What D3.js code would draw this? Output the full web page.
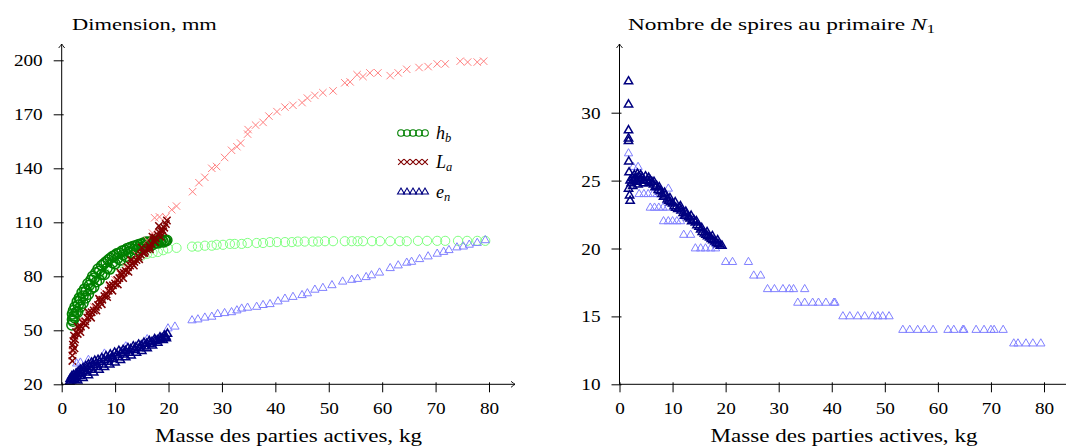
<!DOCTYPE html>
<html><head><meta charset="utf-8">
<script src="https://cdn.jsdelivr.net/npm/d3@7"></script>
<style>body{margin:0;background:#fff}svg{display:block}</style>
</head><body><svg id="c" width="1066" height="447"></svg>
<script>
// ---------- data ----------
const xTickValues = [0,10,20,30,40,50,60,70,80];
const yTicksLeft = [20,50,80,110,140,170,200];
const yTicksRight = [10,15,20,25,30];
const titleLeft = "Dimension, mm";
const titleRight = "Nombre de spires au primaire ";
const xLabel = "Masse des parties actives, kg";

// h_b (green circles)
const hbLight = [[2.0,58],[2.5,62],[3,66],[3.5,69],[4,71],[5,75],[6,78],[7,80.5],[8,82.5],[9,84.5],[10,86],[11,87.5],[12,89],[13,90],[14,91],[15,91.5],[16,92.5],[17,93],[18,93.5],[19,94.5],[19.9,95.5],[21.5,95.8],[24.4,96.5],[25.5,96.5],[26.8,97],[28.1,97],[29,97.5],[30.2,97.5],[31.5,98],[32.4,98],[33.7,98],[34.8,98.5],[36.5,98.5],[37.7,98.5],[39,99],[40.3,99],[41.8,99],[43.1,99],[44.2,99.3],[45.5,99.3],[47,99.3],[48,99.3],[49.3,99.5],[50.8,99.5],[53,99.5],[54.3,99.5],[55.4,99.5],[56.4,99.5],[58.1,99.5],[59.6,99.5],[61.5,99.5],[63.3,99.5],[64.6,99.5],[66.7,99.7],[68.4,99.7],[70.3,99.7],[71.8,99.7],[74.2,99.7],[75.9,99.7],[77.8,99.7],[79.3,99.7]];
const hbDark = [[1.9,53],[2.0,56],[2.0,59],[2.1,55],[2.2,61],[2.3,58],[2.5,63],[2.7,60],[2.9,66],[3.1,64],[3.3,68],[3.5,67],[3.8,71],[4.0,69],[4.3,73],[4.6,72],[4.9,76],[5.2,75],[5.5,78],[5.8,80],[6.1,79],[6.4,82],[6.8,84],[7.1,83],[7.5,86],[7.9,87],[8.3,88],[8.7,89],[9.1,90],[9.5,91],[9.9,91.5],[10.3,92.5],[10.8,93],[11.3,94],[11.8,94.5],[12.3,95.5],[12.8,96],[13.3,96.5],[13.8,97],[14.3,97.5],[14.8,98],[15.3,98.5],[15.8,99],[16.3,99],[16.8,99.5],[17.3,99.5],[17.8,100],[18.3,100],[18.8,100],[19.3,100],[19.7,100],
  [3,60],[4,65],[5,70],[6,74],[7,78],[8,81],[9,84],[10,87],[11,89],[12,91],[13,93],[14,94.5],[15,95.5],[16,96.5],[17,97.5],[18,98.5],[19,99],
  [2.4,57],[3.5,63],[4.5,68],[5.5,73],[6.5,77],[7.5,81],[8.5,84.5],[9.5,87.5],[10.5,90],[11.5,92],[12.5,93.5],[13.5,95],[14.5,96],[15.5,97],[16.5,98],[17.5,98.5],[18.5,99.3],[19.5,99.6]];

// L_a (red crosses)
const laLight = [[2.0,38],[2.2,44],[2.5,47],[3,50],[4,55],[5,59],[6,63],[7,67],[8,71],[9,74],[10,78],[11,81],[12,85],[13,88],[14,92],[15,96],[16,100],[17,104],[17.4,112.5],[18.3,113],[19.5,113],[20.6,117],[21.5,119],[24.5,127],[25.7,132],[26.8,135],[28.1,140],[29,141],[30.5,146],[31.8,150],[32.8,152],[33.5,154],[34.8,159],[34.9,161.5],[36.3,164],[37.7,165.5],[38.8,169],[40.3,171.5],[41.8,174],[43.3,175],[45,176.5],[46,179],[47.4,180.5],[48.9,182],[50.8,183],[53,187.5],[54,188],[55.3,192],[56.4,191],[57.7,193],[59.2,193],[61.5,191.5],[63,193],[64.6,195],[66.9,196],[68.6,196.5],[70.3,198],[71.8,198],[74.6,199.5],[76,199],[77.8,199],[79,199.5]];
const laDark = [[2.0,33],[2.0,36],[2.1,39],[2.1,42],[2.2,44],[2.3,47],[2.5,45],[2.7,49],[3.0,48],[3.3,51],[3.6,52],[4.0,54],[4.4,55],[4.8,57],[5.2,58],[5.6,60],[6.0,61],[6.4,63],[6.8,64],[7.2,66],[7.6,67],[8.0,69],[8.4,70],[8.8,72],[9.2,73],[9.6,75],[10.0,76],[10.4,78],[10.8,79],[11.2,81],[11.6,82],[12.0,83],[12.4,85],[12.8,86],[13.2,87],[13.6,88],[14.0,89],[14.4,91],[14.8,92],[15.2,93],[15.6,94],[16.0,95],[16.4,97],[16.8,98],[17.2,100],[17.6,101],[18.0,103],[18.4,104],[18.8,106],[19.2,107],[19.5,109],[19.7,111],[16.5,95],[17.5,99],[18.5,102],[19.0,105],[18.2,108],
  [3,52],[5,60],[7,67.5],[9,75],[11,82],[13,89],[15,96],[17,102],
  [2.4,40],[3.5,49],[4.5,53],[5.5,57],[6.5,61],[7.5,64.5],[8.5,68.5],[9.5,72],[10.5,75.5],[11.5,79],[12.5,82.5],[13.5,86],[14.5,89.5],[15.5,93],[16.5,96],[17.5,101.5],[18.5,105.5]];

// e_n (blue triangles)
const enLight = [[2.8,31.5],[3.5,32],[5,33.5],[8,37],[12,41],[16,45],[19.9,51],[21.2,52],[24.4,55.5],[25.5,56],[26.8,57],[28.1,57.5],[29.2,59],[30.5,59.5],[31.8,60],[32.8,61],[33.7,62],[34.8,62.5],[36.5,63],[37.7,64],[39,64.5],[40.5,66],[41.8,67.5],[43.3,68.5],[45,69.5],[46,70.5],[47.4,72.5],[48.9,73.5],[50.6,75],[52.6,77],[54.3,78],[55.4,78.5],[57,79.5],[58,80.5],[59.5,82],[61.5,84.5],[63,86],[64.6,87.5],[65.5,88],[67,89.5],[68.6,91],[70.3,92.5],[71.5,93.5],[72.5,94.5],[74,96],[75.2,96.5],[76.3,97.5],[77.8,98.5],[79.3,100]];
const enDark = [[1.5,21.5],[1.6,23],[1.8,22],[1.9,24.5],[2.0,23],[2.2,25],[2.3,22.5],[2.5,24],[2.7,26],[2.9,24.5],[3.1,27],[3.3,25.5],[3.5,28],[3.7,26.5],[4.0,29],[4.2,27.5],[4.5,30],[4.8,28.5],[5.0,31],[5.3,29.5],[5.6,32],[5.9,30.5],[6.2,33],[6.5,31.5],[6.8,33.5],[7.1,32.5],[7.5,34.5],[7.9,33.5],[8.3,35.5],[8.7,34.5],[9.1,36.5],[9.5,35.5],[9.9,37.5],[10.3,36.5],[10.7,38.5],[11.1,37.5],[11.5,39],[11.9,38.5],[12.4,40],[12.9,39.5],[13.4,41],[13.9,40.5],[14.4,42],[14.9,41.5],[15.4,43],[15.9,42.5],[16.4,44],[16.9,43.5],[17.4,45],[17.9,44.5],[18.4,46],[18.8,45.5],[19.2,47],[19.5,46.5],[19.8,48],
  [3,22],[4,23.5],[5,25],[6,26.5],[7,28],[8,29.5],[9,31],[10,32],[11,33.5],[12,35],[13,36],[14,37.5],[15,38.5],[16,40],[17,41.5],[18,43],[19,44.5],[19.6,45.5],
  [2.5,22.5],[3.5,24.5],[4.5,26.5],[5.5,28],[6.5,29.5],[7.5,31],[8.5,32.5],[9.5,34],[10.5,35],[11.5,36.5],[12.5,37.5],[13.5,39],[14.5,40],[15.5,41],[16.5,42.5],[17.5,44],[18.5,45],[19.3,46]];

// N_1 (blue triangles, right panel)
const n1Light = [[1.7,27],[2.6,26],[3.5,26],[2.2,25],[3.2,25],[4.2,25],[5.0,25],[3.7,24],[4.6,24],[5.4,24],[6.3,24],[7.1,24],[9.2,24.4],[5.8,23],[6.6,23],[7.4,23],[8.2,23],[9.0,23],[8.3,22],[9.2,22],[10.0,22],[10.8,22],[11.5,22],[12.1,21],[13.4,21],[14.3,20],[15.3,20],[16.2,20],[17.2,20],[18.1,20],[20.0,19],[21.3,19],[24.3,19],[25.3,18],[26.6,18],[27.9,17],[29.2,17],[30.8,17],[32.0,17],[32.8,17],[34.9,17],[33.6,16],[34.9,16],[36.4,16],[37.5,16],[38.9,16],[40.4,16],[40.6,16],[42.1,15],[43.4,15],[44.9,15],[46.2,15],[47.7,15],[48.7,15],[49.6,15],[50.8,15],[53.4,14],[54.7,14],[56.2,14],[57.5,14],[59.1,14],[61.9,14],[63,14],[64.7,14],[64.9,14],[67.2,14],[68.7,14],[70,14],[70.6,14],[72.3,14],[74.3,13],[75.1,13],[76.6,13],[77.9,13],[79.4,13]];
const n1Dark = [[1.7,32.3],[1.7,30.6],[1.7,28.7],[1.7,28.1],[1.7,27.9],[1.75,26.4],[1.8,25.6],[1.7,24.4],[1.9,23.9],[2.0,23.5],[2.0,25.0],[2.2,24.8],[2.4,25.2],[2.6,25.0],[2.8,25.4],[3.0,25.1],[3.2,24.9],[3.4,25.5],[3.6,25.3],[3.8,25.0],[4.0,25.4],[4.3,25.2],[4.6,25.0],[4.9,25.3],[5.2,25.0],[5.5,24.8],[5.8,25.0],[6.1,24.9],[6.4,24.7],[6.7,24.5],[7.0,24.6],[7.3,24.3],[7.7,24.2],[8.0,24.0],[8.3,23.8],[8.6,23.9],[9.0,23.6],[9.3,23.5],[9.6,23.4],[10.0,23.3],[10.3,23.1],[10.6,23.0],[11.0,22.9],[11.3,23.0],[11.6,22.8],[12.0,22.6],[12.3,22.4],[12.6,22.5],[13.0,22.3],[13.3,22.2],[13.6,22.0],[14.0,22.1],[14.3,21.9],[14.6,21.7],[15.0,21.6],[15.3,21.4],[15.6,21.2],[16.0,21.1],[16.3,21.0],[16.6,20.9],[17.0,20.8],[17.3,20.7],[17.6,20.6],[18.0,20.5],[18.3,20.4],[18.6,20.3],[19.0,20.2],[19.3,20.2],
  [2.5,24.6],[3.5,24.7],[4.5,24.8],[5.5,25.2],[6.5,24.9],[7.5,24.5],[8.5,24.1],[9.5,23.7],[10.5,23.4],[11.5,23.1],[12.5,22.7],[13.5,22.4],[14.5,22.0],[15.5,21.5],[16.5,21.2],[17.5,20.9],[18.5,20.6]];

// ---------- styles ----------
const SERIF = "'Liberation Serif','Times New Roman',serif";
const C = {
  greenL:'#80ff80', greenD:'#008000',
  redL:'#ff8080', redD:'#800000',
  blueL:'#8080ff', blueD:'#000080'
};

const svg = d3.select('#c');

const xL = d3.scaleLinear().domain([0,80]).range([61.7,489]);
const yL = d3.scaleLinear().domain([20,200]).range([384.3,60.3]);
const xR = d3.scaleLinear().domain([0,80]).range([619.5,1044]);
const yR = d3.scaleLinear().domain([10,30]).range([384.3,112.7]);

function crossPath(h){return `M${-h},${-h}L${h},${h}M${-h},${h}L${h},${-h}`;}
function triPath(r){const a=r*0.866;return `M0,${-r}L${a},${r/2}L${-a},${r/2}Z`;}

function drawMarks(g, data, x, y, kind, color, size, sw){
  const sel = g.append('g').selectAll('.m').data(data).enter();
  let m;
  if(kind==='circle'){
    m = sel.append('circle').attr('cx',d=>x(d[0])).attr('cy',d=>y(d[1])).attr('r',size);
  } else {
    m = sel.append('path').attr('transform',d=>`translate(${x(d[0])},${y(d[1])})`)
      .attr('d', kind==='cross' ? crossPath(size) : triPath(size));
  }
  m.attr('fill','none').attr('stroke',color).attr('stroke-width',sw||1);
}

function drawAxes(x, y, yTicks, xTip, yTip){
  const x0 = x.range()[0], y0 = y.range()[0];
  const gx = svg.append('g').attr('transform',`translate(0,${y0})`)
    .call(d3.axisBottom(x).tickValues(xTickValues).tickFormat(d3.format('d')).tickSize(8));
  gx.select('.domain').remove();
  gx.attr('font-family',SERIF).attr('font-size',16);
  gx.selectAll('.tick line').attr('y1',-2).attr('y2',8).attr('stroke','#000');
  gx.selectAll('.tick text').attr('y',null).attr('dy',null).attr('fill','#000')
    .attr('transform','translate(0,30) scale(1.2,1)');
  const gy = svg.append('g').attr('transform',`translate(${x0},0)`)
    .call(d3.axisLeft(y).tickValues(yTicks).tickFormat(d3.format('d')).tickSize(8));
  gy.select('.domain').remove();
  gy.attr('font-family',SERIF).attr('font-size',16);
  gy.selectAll('.tick line').attr('x1',2).attr('x2',-8).attr('stroke','#000');
  gy.selectAll('.tick text').attr('x',null).attr('dy',null).attr('fill','#000')
    .attr('transform','translate(-19,5.5) scale(1.2,1)');
  svg.append('path').attr('d',`M${x0},${y0}H${xTip}`).attr('stroke','#000').attr('stroke-width',1).attr('fill','none');
  svg.append('path').attr('d',`M${x0},${y0}V${yTip}`).attr('stroke','#000').attr('stroke-width',1).attr('fill','none');
  svg.append('path').attr('d',`M${xTip-4},${y0-3}Q${xTip-1},${y0-0.6} ${xTip},${y0}Q${xTip-1},${y0+0.6} ${xTip-4},${y0+3}`)
    .attr('stroke','#000').attr('stroke-width',0.9).attr('fill','none');
  svg.append('path').attr('d',`M${x0-3},${yTip+4}Q${x0-0.6},${yTip+1} ${x0},${yTip}Q${x0+0.6},${yTip+1} ${x0+3},${yTip+4}`)
    .attr('stroke','#000').attr('stroke-width',0.9).attr('fill','none');
}

function fitText(t, x, y, width, anchor){
  const w = t.node().getBBox().width;
  t.attr('text-anchor',anchor).attr('transform',`translate(${x},${y}) scale(${width/w},1)`);
}

// ---------- left panel ----------
const gL = svg.append('g');
drawMarks(gL, hbLight, xL, yL, 'circle', C.greenL, 4.6, 1);
drawMarks(gL, hbDark, xL, yL, 'circle', C.greenD, 5, 1.5);
drawMarks(gL, laLight, xL, yL, 'cross', C.redL, 3.7, 1);
drawMarks(gL, laDark, xL, yL, 'cross', C.redD, 3.7, 1.5);
drawMarks(gL, enLight, xL, yL, 'tri', C.blueL, 4.8, 1);
drawMarks(gL, enDark, xL, yL, 'tri', C.blueD, 4.8, 1.5);
drawAxes(xL, yL, yTicksLeft, 515, 44);

// legend
const legendRows = [
  {kind:'circle', color:C.greenD, main:'h', sub:'b', size:3.3},
  {kind:'cross', color:C.redD, main:'L', sub:'a', size:2.9},
  {kind:'tri', color:C.blueD, main:'e', sub:'n', size:4}
];
const legendY = [133, 162, 192];
const legendXs = [401, 407, 413, 419, 425];
legendRows.forEach((r,i)=>{
  const gg = svg.append('g');
  const pts = legendXs.map(v=>[v, legendY[i]]);
  drawMarks(gg, pts, d=>d, d=>d, r.kind, r.color, r.size, 1.1);
  const t = svg.append('text').attr('x',436).attr('y',legendY[i]+5.5)
    .attr('font-family',SERIF).attr('font-size',18).attr('font-style','italic').attr('fill','#000');
  t.append('tspan').text(r.main);
  t.append('tspan').attr('dy',3.5).attr('font-size',12.5).text(r.sub);
});

const tL = svg.append('text').attr('font-family',SERIF).attr('font-size',17).attr('fill','#000').text(titleLeft);
fitText(tL, 72, 30, 145, 'start');
const xlL = svg.append('text').attr('font-family',SERIF).attr('font-size',18).attr('fill','#000').text(xLabel);
fitText(xlL, 288.5, 442, 267, 'middle');

// ---------- right panel ----------
const gR = svg.append('g');
drawMarks(gR, n1Light, xR, yR, 'tri', C.blueL, 4.8, 1);
drawMarks(gR, n1Dark, xR, yR, 'tri', C.blueD, 4.8, 1.5);
drawAxes(xR, yR, yTicksRight, 1070, 44);

const tR = svg.append('text').attr('font-family',SERIF).attr('font-size',17).attr('fill','#000');
tR.append('tspan').text(titleRight);
tR.append('tspan').attr('font-style','italic').text('N');
tR.append('tspan').attr('dy',3).attr('font-size',12).text('1');
fitText(tR, 628, 29.5, 307, 'start');
const xlR = svg.append('text').attr('font-family',SERIF).attr('font-size',18).attr('fill','#000').text(xLabel);
fitText(xlR, 844, 442, 267, 'middle');
</script>
</body></html>
